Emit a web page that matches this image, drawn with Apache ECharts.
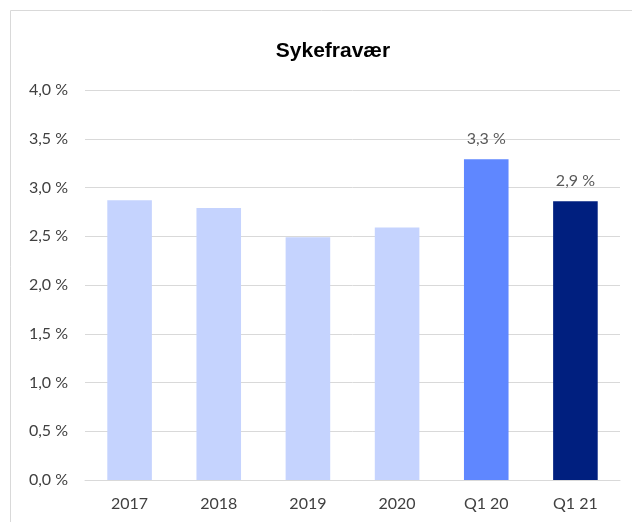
<!DOCTYPE html>
<html>
<head>
<meta charset="utf-8">
<script src="https://cdn.jsdelivr.net/npm/echarts@6/dist/echarts.min.js"></script>
<style>html,body{margin:0;padding:0;background:#fff}#c{width:632px;height:522px}</style>
</head>
<body>
<div id="c"></div>
<script>
const categories = ['2017', '2018', '2019', '2020', 'Q1 20', 'Q1 21'];
const values = [2.87, 2.79, 2.49, 2.59, 3.29, 2.86];
const barColors = ['#C5D3FE', '#C5D3FE', '#C5D3FE', '#C5D3FE', '#5F87FF', '#001F7F'];
const labelled = [false, false, false, false, true, true];
const yTicks = [0, 0.5, 1, 1.5, 2, 2.5, 3, 3.5, 4];

const fmt = v => v.toFixed(1).replace('.', ',') + ' %';
const chart = echarts.init(document.getElementById('c'));
chart.setOption({
  animation: false,
  graphic: [{
    type: 'rect', shape: {x: 10.5, y: 10.5, width: 640, height: 540},
    style: {fill: 'none', stroke: '#d9d9d9', lineWidth: 1}, silent: true
  }],
  title: {
    text: 'Sykefravær', left: 328, top: 36, textAlign: 'center',
    textStyle: {fontFamily: 'Liberation Sans', fontWeight: 'bold', fontSize: 21, color: '#000'}
  },
  grid: {left: 85, right: 12, top: 90, bottom: 42},
  xAxis: {
    type: 'category', data: categories,
    axisLine: {lineStyle: {color: '#d9d9d9', width: 1}},
    axisTick: {show: false},
    axisLabel: {fontFamily: 'Lato', fontSize: 16, color: '#404040', margin: 16}
  },
  yAxis: {
    type: 'value', min: yTicks[0], max: yTicks[yTicks.length - 1], interval: 0.5,
    axisLine: {show: false}, axisTick: {show: false},
    splitLine: {lineStyle: {color: '#d9d9d9', width: 1}},
    axisLabel: {fontFamily: 'Lato', fontSize: 16, color: '#404040', margin: 17, formatter: fmt}
  },
  series: [{
    type: 'bar', barWidth: '50%',
    data: values.map((v, i) => ({
      value: v, itemStyle: {color: barColors[i]},
      label: {show: labelled[i], position: 'top', distance: 12, formatter: p => fmt(p.value),
        fontFamily: 'Lato', fontSize: 16, color: '#595959'}
    }))
  }]
});
</script>
</body>
</html>
